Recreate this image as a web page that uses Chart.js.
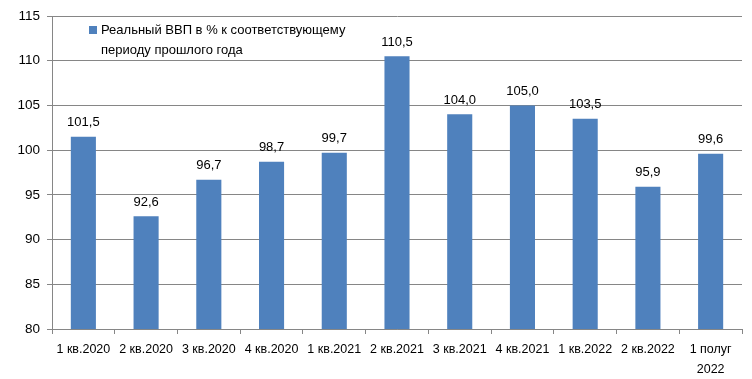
<!DOCTYPE html>
<html>
<head>
<meta charset="utf-8">
<script src="https://cdn.jsdelivr.net/npm/chart.js@4"></script>
<style>
html,body{margin:0;padding:0;background:#fff;}
#wrap{position:relative;width:752px;height:379px;}
</style>
</head>
<body>
<div id="wrap"><canvas id="c" width="752" height="379"></canvas></div>
<script>
const categories = ['1 кв.2020','2 кв.2020','3 кв.2020','4 кв.2020','1 кв.2021','2 кв.2021','3 кв.2021','4 кв.2021','1 кв.2022','2 кв.2022',['1 полуг','2022']];
const gdpValues = [101.5, 92.6, 96.7, 98.7, 99.7, 110.5, 104.0, 105.0, 103.5, 95.9, 99.6];
const seriesName = ['Реальный ВВП в % к соответствующему', 'периоду прошлого года'];
const yMin = 80, yMax = 115, yStep = 5;

const FONT = "'Liberation Sans', Arial, sans-serif";
const BLUE = '#4f81bd';
const GRID = '#868686';

const labelPlugin = {
  id: 'valueLabels',
  afterDatasetsDraw(chart) {
    const ctx = chart.ctx;
    const meta = chart.getDatasetMeta(0);
    ctx.save();
    ctx.font = "13px " + FONT;
    ctx.fillStyle = '#000';
    ctx.textAlign = 'center';
    ctx.textBaseline = 'middle';
    meta.data.forEach((bar, i) => {
      const txt = gdpValues[i].toFixed(1).replace('.', ',');
      ctx.fillText(txt, bar.x, bar.y - 14);
    });
    ctx.restore();
  }
};

const legendPlugin = {
  id: 'customLegend',
  afterDraw(chart) {
    const ctx = chart.ctx;
    ctx.save();
    ctx.fillStyle = BLUE;
    ctx.fillRect(89, 26, 8, 8);
    ctx.fillStyle = '#000';
    ctx.font = "13px " + FONT;
    ctx.textAlign = 'left';
    ctx.textBaseline = 'middle';
    ctx.fillText(seriesName[0], 101, 30);
    ctx.fillText(seriesName[1], 101, 50);
    ctx.restore();
  }
};

new Chart(document.getElementById('c'), {
  type: 'bar',
  data: {
    labels: categories,
    datasets: [{
      label: seriesName.join(' '),
      data: gdpValues,
      backgroundColor: BLUE,
      borderWidth: 0,
      barPercentage: 0.4,
      categoryPercentage: 1.0
    }]
  },
  options: {
    responsive: false,
    animation: false,
    layout: { padding: { top: 16, right: 10, left: 0, bottom: 0 } },
    plugins: { legend: { display: false }, tooltip: { enabled: false } },
    scales: {
      x: {
        offset: true,
        grid: { offset: true, drawOnChartArea: false, drawTicks: true, tickLength: 5, color: GRID },
        border: { color: GRID, width: 1 },
        ticks: { color: '#000', font: { family: FONT, size: 12.5, lineHeight: 1.65 }, padding: 5, maxRotation: 0, autoSkip: false },
        afterFit(s) { s.height = 50; }
      },
      y: {
        min: yMin, max: yMax,
        grid: { color: GRID, tickLength: 5, lineWidth: 1 },
        border: { color: GRID, width: 1 },
        ticks: { stepSize: yStep, color: '#000', font: { family: FONT, size: 13.5 }, padding: 7 },
        afterFit(s) { s.width = 52; }
      }
    }
  },
  plugins: [labelPlugin, legendPlugin]
});
</script>
</body>
</html>
